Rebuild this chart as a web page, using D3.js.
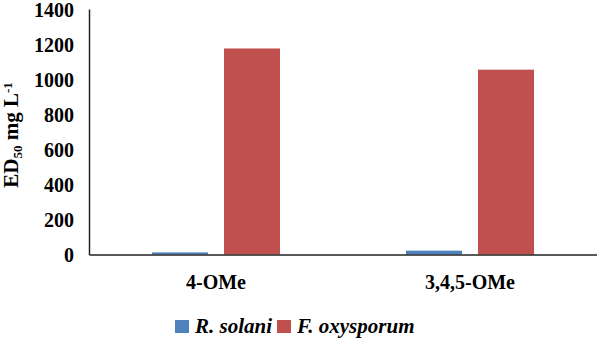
<!DOCTYPE html>
<html>
  <head>
    <meta charset="utf-8">
    <title>ED50</title>
    <style>
      body { margin: 0; background: white; }
      svg { display: block; }
      .axis text { font: bold 20px "Liberation Serif", "Times New Roman", serif; fill: #000; }
      .axis path { stroke: #222; stroke-width: 1.5; }
      .title { font: bold 21px "Liberation Serif", "Times New Roman", serif; fill: #000; }
      .legend text { font: bold italic 21px "Liberation Serif", "Times New Roman", serif; fill: #000; }
    </style>
  </head>
  <body>
  <svg id="chart"></svg>
  <script src="https://d3js.org/d3.v7.min.js"></script>
  <script>

  // data
  var categories = ["4-OMe", "3,4,5-OMe"];
  var seriesNames = ["R. solani", "F. oxysporum"];
  var rSolani = [12, 22];
  var fOxysporum = [1175, 1054];
  var yTicks = [0, 200, 400, 600, 800, 1000, 1200, 1400];
  var colors = ["#4F81BD", "#C0504D"];

  var width = 597, height = 338;
  var margin = {top: 9, right: 0, bottom: 83.5, left: 89};

  var svg = d3.select("#chart")
    .attr("width", width)
    .attr("height", height);

  var x0 = d3.scaleBand()
    .domain(categories)
    .range([margin.left, width - margin.right]);

  var x1 = d3.scaleBand()
    .domain(seriesNames)
    .range([0, x0.bandwidth()])
    .paddingInner(0.222)
    .paddingOuter(0.875);

  var y = d3.scaleLinear()
    .domain([0, 1400])
    .range([height - margin.bottom, margin.top]);

  var rows = categories.map(function(c, i) {
    return {cat: c, values: [rSolani[i], fOxysporum[i]]};
  });

  var groups = svg.selectAll(".grp")
    .data(rows)
    .enter().append("g")
    .attr("class", "grp")
    .attr("transform", function(d) { return "translate(" + x0(d.cat) + ",0)"; });

  groups.selectAll("rect")
    .data(function(d) { return d.values.map(function(v, j) { return {s: seriesNames[j], v: v, j: j}; }); })
    .enter().append("rect")
    .attr("x", function(d) { return x1(d.s); })
    .attr("width", x1.bandwidth())
    .attr("y", function(d) { return y(d.v); })
    .attr("height", function(d) { return y(0) - y(d.v); })
    .attr("fill", function(d) { return colors[d.j]; });

  // y axis
  var yAxis = svg.append("g")
    .attr("class", "axis")
    .attr("transform", "translate(" + margin.left + ",0)")
    .call(d3.axisLeft(y).tickValues(yTicks).tickFormat(d3.format("d"))
      .tickSize(0).tickPadding(15).tickSizeOuter(0));
  yAxis.selectAll("text").attr("dy", "0.35em");

  // x axis
  var xAxis = svg.append("g")
    .attr("class", "axis")
    .attr("transform", "translate(0," + y(0) + ")")
    .call(d3.axisBottom(x0).tickSize(0).tickPadding(20).tickSizeOuter(0));

  // y title
  var title = svg.append("text")
    .attr("class", "title")
    .attr("transform", "translate(18,135) rotate(-90)")
    .attr("text-anchor", "middle");
  title.append("tspan").text("ED");
  title.append("tspan").attr("font-size", "13px").attr("dy", 4).text("50");
  title.append("tspan").attr("dy", -4).text(" mg L");
  title.append("tspan").attr("font-size", "13px").attr("dy", -6).text("-1");

  // legend
  var legend = svg.append("g").attr("class", "legend");
  var legX = [175, 277];
  seriesNames.forEach(function(s, i) {
    legend.append("rect")
      .attr("x", legX[i]).attr("y", 320)
      .attr("width", 14).attr("height", 13)
      .attr("fill", colors[i]);
    legend.append("text")
      .attr("x", legX[i] + 20).attr("y", 333)
      .text(s);
  });

  </script>
  </body>
</html>
